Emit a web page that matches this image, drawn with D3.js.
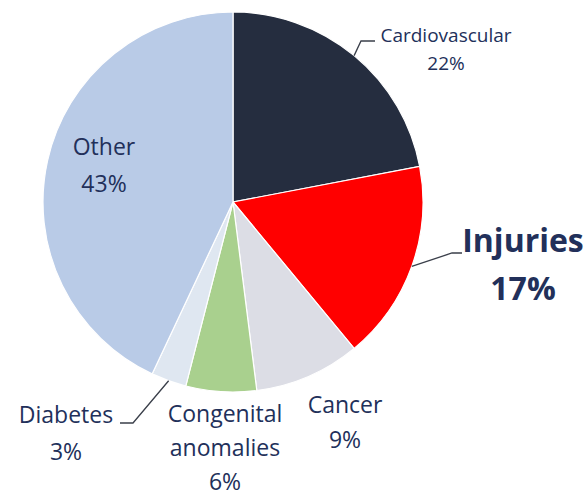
<!DOCTYPE html>
<html>
<head>
<meta charset="utf-8">
<script src="https://cdn.jsdelivr.net/npm/d3@7"></script>
<style>
  body { margin: 0; background: #ffffff; }
  text { font-family: "Open Sans", "Noto Sans", sans-serif; fill: #22305a; }
</style>
</head>
<body>
<div id="chart"></div>
<script>
const categories = ["Cardiovascular", "Injuries", "Cancer", "Congenital anomalies", "Diabetes", "Other"];
const shares = [22, 17, 9, 6, 3, 43];
const labelLines = [
  ["Cardiovascular", "22%"],
  ["Injuries", "17%"],
  ["Cancer", "9%"],
  ["Congenital", "anomalies", "6%"],
  ["Diabetes", "3%"],
  ["Other", "43%"]
];
const colors = ["#252d3f", "#ff0000", "#dcdde5", "#a9d08e", "#dfe7f1", "#b9cbe7"];

const width = 585, height = 496;
const cx = 233, cy = 202, radius = 190;

// where each label sits (first baseline), font size, line gap, leader elbow/end
const labelLayout = [
  { x: 446, y: 42, size: 19, gap: 28, weight: "normal", leader: [[361, 41], [375, 41]] },
  { x: 523, y: 252, size: 32, gap: 48, weight: "bold", leader: [[452, 253], [462, 253]] },
  { x: 345, y: 413, size: 23, gap: 35, weight: "normal" },
  { x: 225, y: 422, size: 23, gap: 34, weight: "normal" },
  { x: 66, y: 423, size: 23, gap: 37, weight: "normal", leader: [[133, 423], [120, 423]] },
  { x: 104, y: 155, size: 23, gap: 37, weight: "normal" }
];

const data = categories.map((c, i) => ({ name: c, value: shares[i], i }));

const svg = d3.select("#chart")
  .append("svg")
  .attr("width", width)
  .attr("height", height);

const g = svg.append("g")
  .attr("transform", `translate(${cx},${cy})`);

const pie = d3.pie()
  .sort(null)
  .value(d => d.value);

const arc = d3.arc().innerRadius(0).outerRadius(radius);
const edge = d3.arc().innerRadius(radius).outerRadius(radius);

const arcs = pie(data);

g.selectAll(".slice")
  .data(arcs)
  .enter()
  .append("path")
  .attr("class", "slice")
  .attr("d", arc)
  .attr("fill", d => colors[d.data.i])
  .attr("stroke", "#ffffff")
  .attr("stroke-width", 1.2);

// leader lines start at the slice's mid-angle on the rim
arcs.forEach(d => {
  const lay = labelLayout[d.data.i];
  if (!lay.leader) return;
  const [sx, sy] = edge.centroid(d);
  const pts = [[sx + cx, sy + cy]].concat(lay.leader);
  svg.append("path")
    .attr("d", d3.line()(pts))
    .attr("fill", "none")
    .attr("stroke", "#3a3f4a")
    .attr("stroke-width", 1.3);
});

data.forEach(d => {
  const lay = labelLayout[d.i];
  const t = svg.append("text")
    .attr("x", lay.x)
    .attr("y", lay.y)
    .attr("text-anchor", "middle")
    .style("font-size", lay.size + "px")
    .style("font-weight", lay.weight);
  labelLines[d.i].forEach((line, k) => {
    t.append("tspan")
      .attr("x", lay.x)
      .attr("y", lay.y + k * lay.gap)
      .text(line);
  });
});
</script>
</body>
</html>
